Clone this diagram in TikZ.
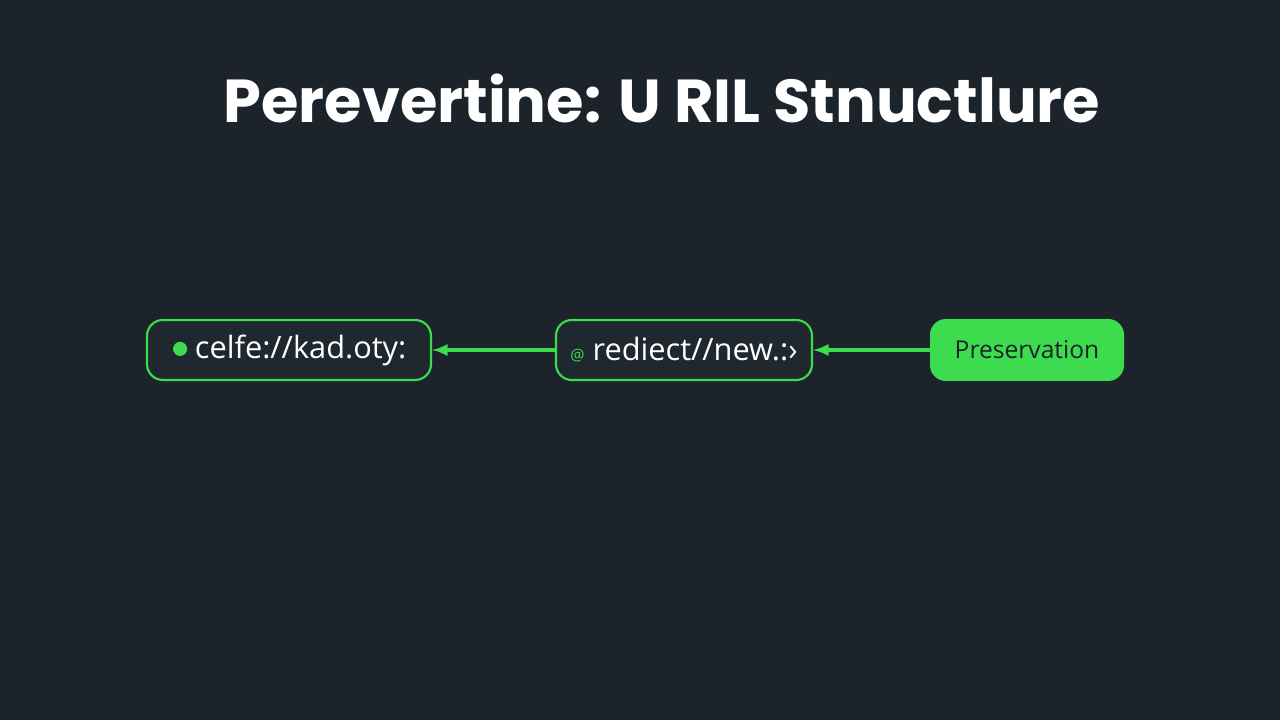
\documentclass[tikz,border=0pt]{standalone}
\usepackage{fontspec}
\setmainfont{Open Sans}
\newfontfamily\titlefont{Poppins}
\usetikzlibrary{positioning}
\definecolor{bgdark}{HTML}{1C232B}
\definecolor{urlgreen}{HTML}{3DDC4E}
\definecolor{boxfill}{HTML}{1F282F}
\begin{document}
\begin{tikzpicture}[
        urlbox/.style={rectangle,rounded corners=9pt,draw=urlgreen,line width=1.2pt,fill=boxfill,text=white,minimum height=1.2cm,font=\fontsize{17.5}{20}\selectfont},
        tagbox/.style={rectangle,rounded corners=9pt,fill=urlgreen,text=bgdark,minimum height=1.24cm,minimum width=3.88cm,font=\fontsize{14}{16}\selectfont},
        link/.style={-latex,draw=urlgreen,line width=2pt}]
    \fill[bgdark] (0,0) rectangle (25.6,14.4);
    \useasboundingbox (0,0) rectangle (25.6,14.4);
    \node[text=white,font=\titlefont\bfseries\fontsize{34.5}{40}\selectfont] (title) at (13.24,12.44) {Perevertine: U RIL Stnuctlure};
    \node[urlbox,minimum width=5.68cm] (old) at (5.78,7.4) {\textcolor{urlgreen}{\huge$\bullet$}\,celfe://kad.oty:};
    \node[urlbox,minimum width=5.12cm] (redir) at (13.68,7.4) {\textcolor{urlgreen}{\small @}\ rediect//new.:›};
    \node[tagbox] (keep) at (20.54,7.4) {Preservation};
    \draw[link] (redir) -- (old);
    \draw[link] (keep) -- (redir);
\end{tikzpicture}
\end{document}
